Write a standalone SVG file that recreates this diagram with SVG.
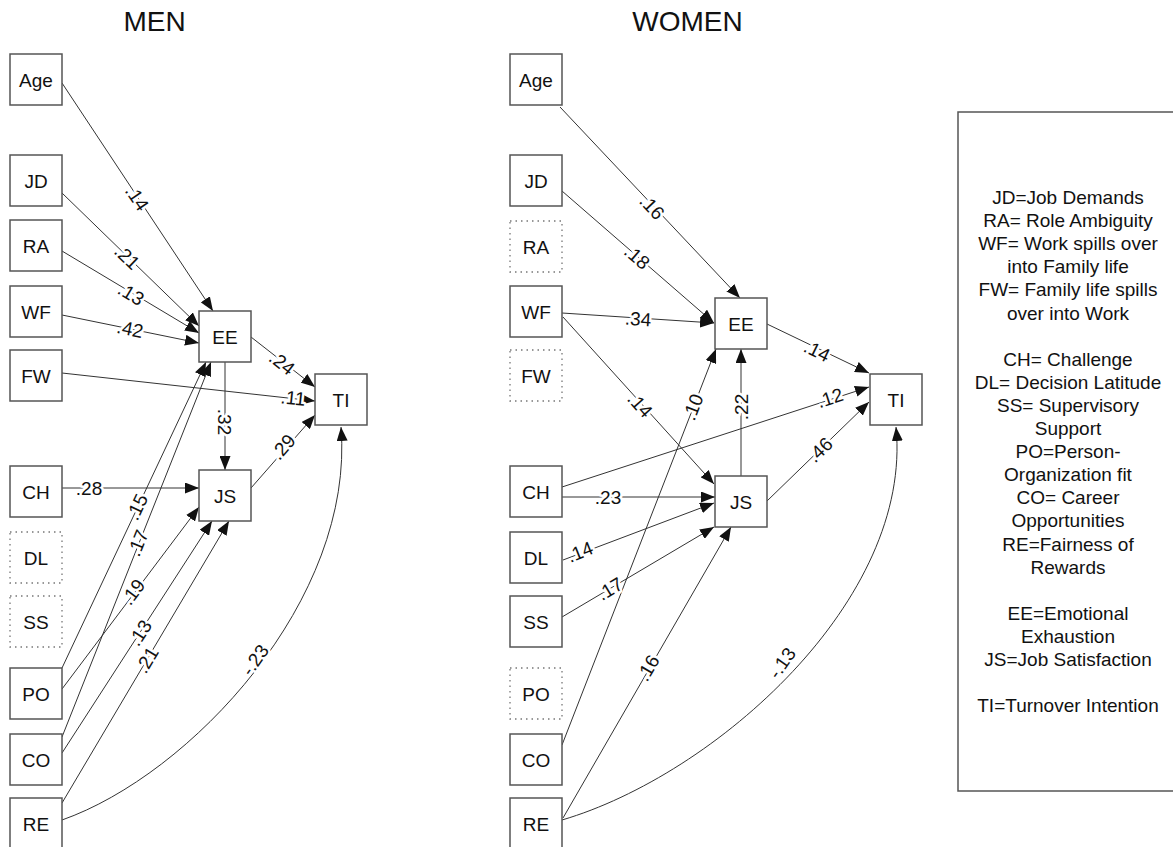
<svg xmlns="http://www.w3.org/2000/svg" width="1173" height="847" viewBox="0 0 1173 847">
<defs>
<style>
text{font-family:"Liberation Sans",Arial,sans-serif;fill:#111}
.title{font-size:28px;text-anchor:middle}
.box{fill:#fff;stroke:#555;stroke-width:1.5}
.dot{fill:#fff;stroke:#777;stroke-width:1.3;stroke-dasharray:1.5 4}
.nl{font-size:19px;text-anchor:middle;dominant-baseline:central}
.e{fill:none;stroke:#333;stroke-width:1;marker-end:url(#ah)}
.lbl{font-size:19px;text-anchor:middle;dominant-baseline:central;paint-order:stroke;stroke:#fff;stroke-width:5px;stroke-linejoin:round}
.leg{font-size:19px;text-anchor:middle}
</style>
<marker id="ah" viewBox="0 0 14 11" refX="14" refY="5.5" markerWidth="14" markerHeight="11" markerUnits="userSpaceOnUse" orient="auto"><path d="M0,0 L14,5.5 L0,11 z" fill="#111"/></marker>
</defs>
<rect width="1173" height="847" fill="#fff"/>
<text class="title" x="154.5" y="31">MEN</text>
<text class="title" x="687.5" y="31">WOMEN</text>

<g id="connectors">
<!-- MEN -->
<path class="e" d="M62,83 L213,311"/>
<path class="e" d="M62,193 L199,326"/>
<path class="e" d="M62,251 L199,333"/>
<path class="e" d="M62,315 L199,343"/>
<path class="e" d="M62,373 L315,401"/>
<path class="e" d="M251,337 L315,387"/>
<path class="e" d="M225,362 L225,470"/>
<path class="e" d="M251,488 L315,415"/>
<path class="e" d="M62,488 L199,488"/>
<path class="e" d="M62,668 L206,362"/>
<path class="e" d="M62,737 L211,362"/>
<path class="e" d="M62,689 L199,507"/>
<path class="e" d="M62,753 L212,521"/>
<path class="e" d="M62,803 L229,521"/>
<path class="e" d="M62,820 C190,775 355,600 341,427"/>
<!-- WOMEN -->
<path class="e" d="M560,107 L740,298"/>
<path class="e" d="M562,191 L714,323"/>
<path class="e" d="M562,313 L714,323"/>
<path class="e" d="M563,317 L714,484"/>
<path class="e" d="M767,324 L869,373"/>
<path class="e" d="M741,476 L741,349"/>
<path class="e" d="M562,487 L869,387"/>
<path class="e" d="M562,497 L715,497"/>
<path class="e" d="M767,501 L869,402"/>
<path class="e" d="M563,560 L714,503"/>
<path class="e" d="M562,617 L714,527"/>
<path class="e" d="M562,745 L716,349"/>
<path class="e" d="M563,818 L731,527"/>
<path class="e" d="M562,820 C715,775 913,600 896,427"/>

<g id="edge-labels">
<text class="lbl" transform="translate(137,198) rotate(56)">.14</text>
<text class="lbl" transform="translate(127,257) rotate(44)">.21</text>
<text class="lbl" transform="translate(131,294) rotate(31)">.13</text>
<text class="lbl" transform="translate(130,329) rotate(11.7)">.42</text>
<text class="lbl" transform="translate(293,398) rotate(6)">.11</text>
<text class="lbl" transform="translate(282,363) rotate(38)">.24</text>
<text class="lbl" transform="translate(224,422) rotate(90)">.32</text>
<text class="lbl" transform="translate(283,447) rotate(-49)">.29</text>
<text class="lbl" transform="translate(89,488)">.28</text>
<text class="lbl" transform="translate(137,507) rotate(-64.5)">.15</text>
<text class="lbl" transform="translate(138,543) rotate(-68)">.17</text>
<text class="lbl" transform="translate(133,592) rotate(-53)">.19</text>
<text class="lbl" transform="translate(140,633) rotate(-57)">.13</text>
<text class="lbl" transform="translate(147,660) rotate(-59)">.21</text>
<text class="lbl" transform="translate(255,660) rotate(-55)">-.23</text>

<text class="lbl" transform="translate(652,207) rotate(46.5)">.16</text>
<text class="lbl" transform="translate(637,257) rotate(41)">.18</text>
<text class="lbl" transform="translate(638,319) rotate(3.8)">.34</text>
<text class="lbl" transform="translate(640,405) rotate(48)">.14</text>
<text class="lbl" transform="translate(817,351) rotate(26)">.14</text>
<text class="lbl" transform="translate(741,407) rotate(-90)">.22</text>
<text class="lbl" transform="translate(830,398) rotate(-18)">.12</text>
<text class="lbl" transform="translate(608,497)">.23</text>
<text class="lbl" transform="translate(820,450) rotate(-44)">.46</text>
<text class="lbl" transform="translate(580,552) rotate(-21.7)">.14</text>
<text class="lbl" transform="translate(610,589) rotate(-31)">.17</text>
<text class="lbl" transform="translate(693,407) rotate(-68.7)">.10</text>
<text class="lbl" transform="translate(648,668) rotate(-60)">.16</text>
<text class="lbl" transform="translate(782,663) rotate(-55)">-.13</text>
</g>
</g>

<!-- MEN nodes -->
<g id="m-age"><rect class="box" x="10" y="54" width="52" height="51"/><text class="nl" x="36" y="80">Age</text></g>
<g id="m-jd"><rect class="box" x="10" y="155" width="52" height="51"/><text class="nl" x="36" y="181">JD</text></g>
<g id="m-ra"><rect class="box" x="10" y="220" width="52" height="51"/><text class="nl" x="36" y="246">RA</text></g>
<g id="m-wf"><rect class="box" x="10" y="286" width="52" height="51"/><text class="nl" x="36" y="312">WF</text></g>
<g id="m-fw"><rect class="box" x="10" y="350" width="52" height="51"/><text class="nl" x="36" y="376">FW</text></g>
<g id="m-ch"><rect class="box" x="10" y="466" width="52" height="51"/><text class="nl" x="36" y="492">CH</text></g>
<g id="m-dl"><rect class="dot" x="10" y="532" width="52" height="51"/><text class="nl" x="36" y="558">DL</text></g>
<g id="m-ss"><rect class="dot" x="10" y="596" width="52" height="51"/><text class="nl" x="36" y="622">SS</text></g>
<g id="m-po"><rect class="box" x="10" y="668" width="52" height="51"/><text class="nl" x="36" y="694">PO</text></g>
<g id="m-co"><rect class="box" x="10" y="734" width="52" height="51"/><text class="nl" x="36" y="760">CO</text></g>
<g id="m-re"><rect class="box" x="10" y="798" width="52" height="51"/><text class="nl" x="36" y="824">RE</text></g>
<g id="m-ee"><rect class="box" x="199" y="311" width="52" height="51"/><text class="nl" x="225" y="337">EE</text></g>
<g id="m-js"><rect class="box" x="199" y="470" width="52" height="51"/><text class="nl" x="225" y="496">JS</text></g>
<g id="m-ti"><rect class="box" x="315" y="374" width="52" height="51"/><text class="nl" x="341" y="400">TI</text></g>

<!-- WOMEN nodes -->
<g id="w-age"><rect class="box" x="510" y="54" width="52" height="51"/><text class="nl" x="536" y="80">Age</text></g>
<g id="w-jd"><rect class="box" x="510" y="155" width="52" height="51"/><text class="nl" x="536" y="181">JD</text></g>
<g id="w-ra"><rect class="dot" x="510" y="221" width="52" height="51"/><text class="nl" x="536" y="247">RA</text></g>
<g id="w-wf"><rect class="box" x="510" y="286" width="52" height="51"/><text class="nl" x="536" y="312">WF</text></g>
<g id="w-fw"><rect class="dot" x="510" y="350" width="52" height="51"/><text class="nl" x="536" y="376">FW</text></g>
<g id="w-ch"><rect class="box" x="510" y="466" width="52" height="51"/><text class="nl" x="536" y="492">CH</text></g>
<g id="w-dl"><rect class="box" x="510" y="532" width="52" height="51"/><text class="nl" x="536" y="558">DL</text></g>
<g id="w-ss"><rect class="box" x="510" y="596" width="52" height="51"/><text class="nl" x="536" y="622">SS</text></g>
<g id="w-po"><rect class="dot" x="510" y="668" width="52" height="51"/><text class="nl" x="536" y="694">PO</text></g>
<g id="w-co"><rect class="box" x="510" y="734" width="52" height="51"/><text class="nl" x="536" y="760">CO</text></g>
<g id="w-re"><rect class="box" x="510" y="798" width="52" height="51"/><text class="nl" x="536" y="824">RE</text></g>
<g id="w-ee"><rect class="box" x="715" y="298" width="52" height="51"/><text class="nl" x="741" y="324">EE</text></g>
<g id="w-js"><rect class="box" x="715" y="476" width="52" height="51"/><text class="nl" x="741" y="502">JS</text></g>
<g id="w-ti"><rect class="box" x="870" y="374" width="52" height="51"/><text class="nl" x="896" y="400">TI</text></g>

<!-- Legend -->
<g id="legend">
<rect class="box" x="958" y="112" width="222" height="679"/>
<text class="leg" x="1068" y="204">JD=Job Demands</text>
<text class="leg" x="1068" y="227.1">RA= Role Ambiguity</text>
<text class="leg" x="1068" y="250.2">WF= Work spills over</text>
<text class="leg" x="1068" y="273.3">into Family life</text>
<text class="leg" x="1068" y="296.4">FW= Family life spills</text>
<text class="leg" x="1068" y="319.5">over into Work</text>
<text class="leg" x="1068" y="365.7">CH= Challenge</text>
<text class="leg" x="1068" y="388.8">DL= Decision Latitude</text>
<text class="leg" x="1068" y="411.9">SS= Supervisory</text>
<text class="leg" x="1068" y="435">Support</text>
<text class="leg" x="1068" y="458.1">PO=Person-</text>
<text class="leg" x="1068" y="481.2">Organization fit</text>
<text class="leg" x="1068" y="504.3">CO= Career</text>
<text class="leg" x="1068" y="527.4">Opportunities</text>
<text class="leg" x="1068" y="550.5">RE=Fairness of</text>
<text class="leg" x="1068" y="573.6">Rewards</text>
<text class="leg" x="1068" y="619.8">EE=Emotional</text>
<text class="leg" x="1068" y="642.9">Exhaustion</text>
<text class="leg" x="1068" y="666">JS=Job Satisfaction</text>
<text class="leg" x="1068" y="712.2">TI=Turnover Intention</text>
</g>
</svg>
